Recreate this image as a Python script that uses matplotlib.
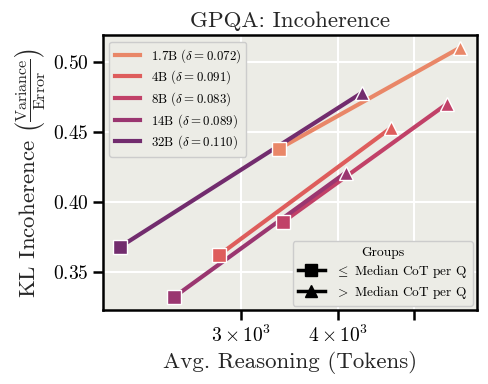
import matplotlib
matplotlib.use("Agg")
import matplotlib.pyplot as plt
from matplotlib.lines import Line2D
from matplotlib.ticker import FixedLocator, NullLocator
import seaborn as sns

# data
models = ["1.7B", "4B", "8B", "14B", "32B"]
deltas = [0.072, 0.091, 0.083, 0.089, 0.110]
tokens_low = [3357, 2808, 3401, 2457, 2097]
tokens_high = [5731, 4678, 5516, 4090, 4292]
incoh_low = [0.438, 0.362, 0.386, 0.332, 0.368]
incoh_high = [0.510, 0.453, 0.470, 0.421, 0.478]
xtick_vals = [3000, 4000, 5000]
xtick_labels = [r"$3\times10^3$", r"$4\times10^3$", ""]
group_labels = [r"$\leq$ Median CoT per Q", r"$>$ Median CoT per Q"]

plt.rcParams["font.family"] = "serif"
plt.rcParams["font.serif"] = ["cmr10"]
plt.rcParams["mathtext.fontset"] = "cm"
plt.rcParams["axes.formatter.use_mathtext"] = True
plt.rcParams["axes.unicode_minus"] = False

colors = sns.color_palette("flare", 5)

fig, ax = plt.subplots(figsize=(4.88, 3.84), dpi=100)
fig.subplots_adjust(left=0.211, right=0.977, top=0.908, bottom=0.193)
ax.set_facecolor("#ECECE6")
ax.grid(True, color="white", linewidth=1.5)
ax.set_axisbelow(True)

for i, m in enumerate(models):
    ax.plot([tokens_low[i], tokens_high[i]], [incoh_low[i], incoh_high[i]],
            color=colors[i], linewidth=3, label=m + r" ($\delta=%.3f$)" % deltas[i], zorder=2)
    ax.plot(tokens_low[i], incoh_low[i], marker="s", markersize=10, color=colors[i],
            markeredgecolor="white", markeredgewidth=1, linestyle="none", zorder=3)
    ax.plot(tokens_high[i], incoh_high[i], marker="^", markersize=10, color=colors[i],
            markeredgecolor="white", markeredgewidth=1, linestyle="none", zorder=3)

ax.set_xscale("log")
ax.xaxis.set_major_locator(FixedLocator(xtick_vals))
ax.xaxis.set_minor_locator(NullLocator())
ax.set_xticklabels(xtick_labels)
ax.set_yticks([0.35, 0.40, 0.45, 0.50])

ax.set_title("GPQA: Incoherence", fontsize=16.5, color="#262626")
ax.set_xlabel("Avg. Reasoning (Tokens)", fontsize=16.5, color="#262626")
ax.set_ylabel(r"KL Incoherence $\left(\frac{\mathrm{Variance}}{\mathrm{Error}}\right)$",
              fontsize=16.5, color="#262626")
ax.tick_params(axis="both", which="both", labelsize=14, width=1.8, length=7, direction="out")
for s in ax.spines.values():
    s.set_linewidth(1.8)
    s.set_color("black")

leg1 = ax.legend(loc="upper left", fontsize=9.3, frameon=True, facecolor="#ECECE6",
                 edgecolor="#CCCCCC", framealpha=1, labelspacing=0.3)
ax.add_artist(leg1)
handles = [Line2D([0], [0], color="black", linewidth=2.5, marker="s", markersize=9),
           Line2D([0], [0], color="black", linewidth=2.5, marker="^", markersize=9)]
leg2 = ax.legend(handles, group_labels, loc="lower right", title="Groups", fontsize=9.6,
                 title_fontsize=9.8, frameon=True, facecolor="#ECECE6",
                 edgecolor="#CCCCCC", framealpha=1, labelspacing=0.3,
                 borderaxespad=0.3)

plt.savefig("out.png", dpi=100)
plt.close()
